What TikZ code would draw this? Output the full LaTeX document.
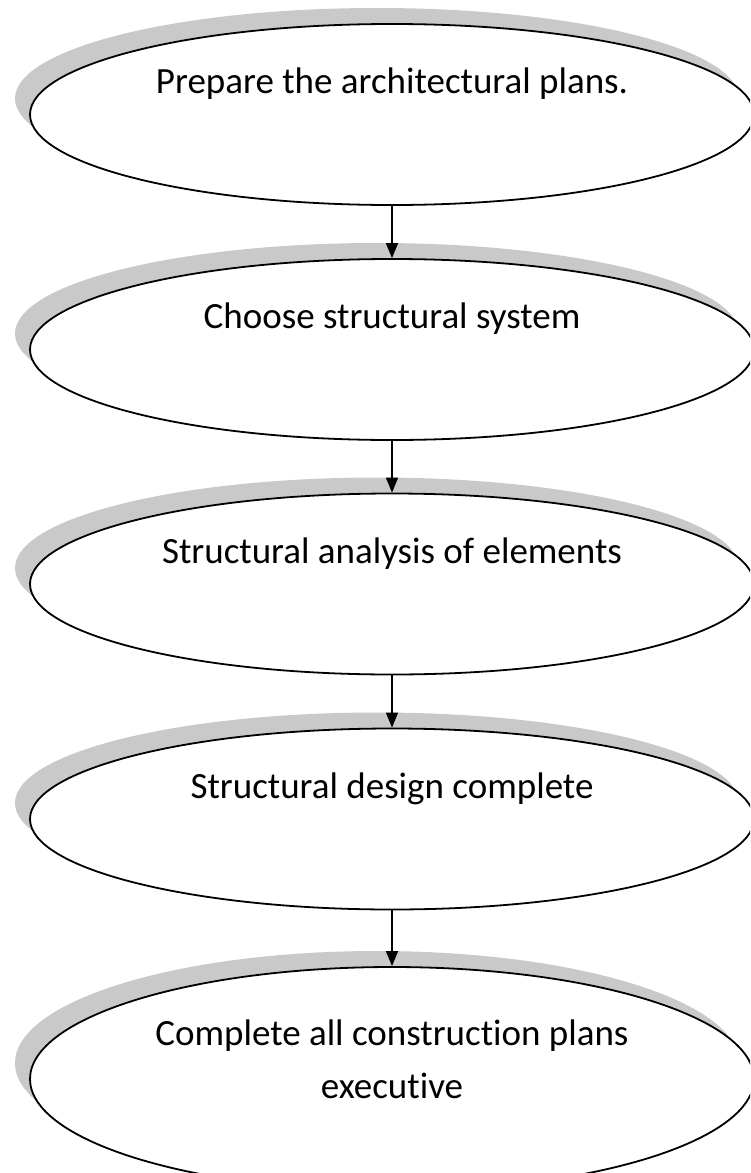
\documentclass[tikz,border=0pt]{standalone}
\usepackage{fontspec}
\setmainfont{Carlito}[Ligatures=NoCommon]
\usetikzlibrary{arrows.meta,shapes.geometric,shadows}

\tikzset{
  stage/.style={draw, line width=0.9pt, ellipse, fill=white, inner sep=0pt,
    minimum width=362pt, minimum height=90.5pt,
    general shadow={shadow xshift=-7.5pt, shadow yshift=8pt, fill=gray!42}},
  stagetext/.style={font=\fontsize{18.5}{26.5}\selectfont, align=center},
  flow/.style={line width=0.7pt, -{Triangle[width=6pt,length=7.5pt]}}
}

\begin{document}
\begin{tikzpicture}[x=0.5pt,y=-0.5pt]
  \useasboundingbox (0,0) rectangle (750,1173);
  \clip (0,0) rectangle (750,1173);
  % stages, top to bottom
  \node[stage] (e1) at (392,114.5) {};
  \node[stage] (e2) at (392,349.5) {};
  \node[stage] (e3) at (392,584) {};
  \node[stage] (e4) at (392,819) {};
  \node[stage, minimum height=112pt] (e5) at (392,1079) {};
  % labels sit above the middle of each stage
  \node[stagetext] (t1) at (392,84) {Prepare the architectural plans.};
  \node[stagetext] (t2) at (392,319) {Choose structural system};
  \node[stagetext] (t3) at (392,554) {Structural analysis of elements};
  \node[stagetext] (t4) at (392,789) {Structural design complete};
  \node[stagetext] (t5) at (392,1059) {Complete all construction plans\\executive};
  % arrows between stages
  \foreach \a/\b in {e1/e2,e2/e3,e3/e4,e4/e5}
    \draw[flow] (\a) -- (\b);
\end{tikzpicture}
\end{document}
